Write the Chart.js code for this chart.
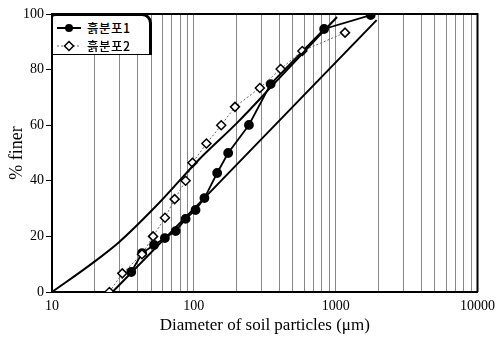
<!DOCTYPE html>
<html>
<head>
<meta charset="utf-8">
<script src="https://cdn.jsdelivr.net/npm/chart.js@4"></script>
<style>
  html, body { margin: 0; padding: 0; background: #fff; }
  #wrap { position: relative; width: 501px; height: 340px; }
  #legend {
    position: absolute; left: 52px; top: 13px; width: 96px; height: 38px;
    background: #fff; border: 1px solid #000; border-top-width: 3px; border-right-width: 3px;
    border-top-right-radius: 10px; border-top-left-radius: 4px;
    font-family: "Noto Sans CJK KR", sans-serif; font-size: 12.5px; font-weight: 500; color: #000;
  }
  .row { position: absolute; left: 4px; height: 16px; line-height: 16px; white-space: nowrap; }
  .row svg { vertical-align: middle; }
  .row span { margin-left: 6px; vertical-align: middle; letter-spacing: 0.5px; }
</style>
</head>
<body>
<div id="wrap">
  <canvas id="chart" width="501" height="340"></canvas>
  <div id="legend">
    <div class="row" style="top:2px">
      <svg width="24" height="12"><line x1="0" y1="6" x2="24" y2="6" stroke="#000" stroke-width="2"/><circle cx="12" cy="6" r="4" fill="#000"/></svg><span>흙분포1</span>
    </div>
    <div class="row" style="top:20px">
      <svg width="24" height="12"><line x1="0" y1="6" x2="24" y2="6" stroke="#666" stroke-width="1" stroke-dasharray="2,2"/><polygon points="12,1.5 16.5,6 12,10.5 7.5,6" fill="#fff" stroke="#000" stroke-width="1.5"/></svg><span>흙분포2</span>
    </div>
  </div>
</div>
<script>
// particle size (um) and % finer
var soil1X = [36.2, 43.2, 52.4, 62.5, 74.5, 87.5, 102.8, 118.8, 146, 174.6, 244.6, 348, 829, 1766]
var soil1Y = [7.2, 14, 16.9, 19.4, 21.9, 26.3, 29.5, 33.8, 42.8, 50, 60.1, 74.8, 94.6, 99.6]

var soil2X = [25.4, 31.3, 43.1, 51.6, 62.6, 73.3, 87.5, 97.9, 122.7, 156, 195, 292, 409, 582, 1164]
var soil2Y = [0, 6.7, 13.6, 20, 26.7, 33.4, 40, 46.5, 53.4, 60, 66.6, 73.4, 80.2, 86.7, 93.3]

// grading envelope lines
var upperX = [10, 19.3, 29.8, 56.8, 108, 205, 390, 741, 1023]
var upperY = [0, 10.4, 18, 32, 47.5, 61.2, 76.3, 91.4, 98.9]
var lowerX = [26.7, 120.8, 1945]
var lowerY = [0, 34.2, 97.8]

var xGrid = [10, 20, 30, 40, 50, 60, 70, 80, 90,
             100, 200, 300, 400, 500, 600, 700, 800, 900,
             1000, 2000, 3000, 4000, 5000, 6000, 7000, 8000, 9000, 10000]
var xTickLabels = ['10', '100', '1000', '10000']
var yTicks = [0, 20, 40, 60, 80, 100]

function pts(xs, ys) {
  return xs.map((x, i) => ({x: x, y: ys[i]}))
}

var frame = {
  id: 'frame',
  afterDraw(chart) {
    let a = chart.chartArea
    let ctx = chart.ctx
    ctx.save()
    ctx.strokeStyle = '#000'
    ctx.lineWidth = 2
    ctx.beginPath()
    ctx.moveTo(a.left, a.top)
    ctx.lineTo(a.right, a.top)
    ctx.lineTo(a.right, a.bottom)
    ctx.stroke()
    ctx.restore()
  }
}

new Chart(document.getElementById('chart'), {
  type: 'scatter',
  data: {
    datasets: [
      {label: 'upper', data: pts(upperX, upperY), showLine: true, borderColor: '#000', borderWidth: 2,
       pointRadius: 0, cubicInterpolationMode: 'monotone'},
      {label: 'lower', data: pts(lowerX, lowerY), showLine: true, borderColor: '#000', borderWidth: 2,
       pointRadius: 0},
      {label: '흙분포2', data: pts(soil2X, soil2Y), showLine: true, borderColor: '#666', borderWidth: 1,
       borderDash: [2, 2], pointStyle: 'rectRot', pointRadius: 4.5, pointBackgroundColor: '#fff',
       pointBorderColor: '#000', pointBorderWidth: 1.5},
      {label: '흙분포1', data: pts(soil1X, soil1Y), showLine: true, borderColor: '#000', borderWidth: 1.8,
       pointStyle: 'circle', pointRadius: 4, pointBackgroundColor: '#000', pointBorderColor: '#000'}
    ]
  },
  options: {
    responsive: false,
    animation: false,
    devicePixelRatio: 1,
    layout: {padding: {top: 14, right: 19, left: 0, bottom: 0}},
    plugins: {legend: {display: false}, tooltip: {enabled: false}},
    scales: {
      x: {
        type: 'logarithmic', min: 10, max: 10000,
        afterBuildTicks: (scale) => { scale.ticks = xGrid.map(v => ({value: v})) },
        afterFit: (scale) => { scale.height = 48 },
        ticks: {
          autoSkip: false, maxRotation: 0, padding: 6, color: '#000',
          font: {family: '"Liberation Serif", serif', size: 14},
          callback: (v) => xTickLabels.indexOf(String(v)) >= 0 ? String(v) : ''
        },
        grid: {color: '#888', lineWidth: 1, drawTicks: false},
        border: {color: '#000', width: 2},
        title: {display: true, text: 'Diameter of soil particles (μm)', color: '#000',
                font: {family: '"Liberation Serif", serif', size: 17}, padding: {top: 0, bottom: 4}}
      },
      y: {
        min: 0, max: 100,
        afterBuildTicks: (scale) => { scale.ticks = yTicks.map(v => ({value: v})) },
        afterFit: (scale) => { scale.width = 52 },
        ticks: {color: '#000', padding: 2, font: {family: '"Liberation Serif", serif', size: 14}},
        grid: {drawOnChartArea: false, drawTicks: true, tickLength: 6, tickColor: '#000'},
        border: {color: '#000', width: 2},
        title: {display: true, text: '% finer', color: '#000',
                font: {family: '"Liberation Serif", serif', size: 18}, padding: {top: 6, bottom: 0}}
      }
    }
  },
  plugins: [frame]
})
</script>
</body>
</html>
